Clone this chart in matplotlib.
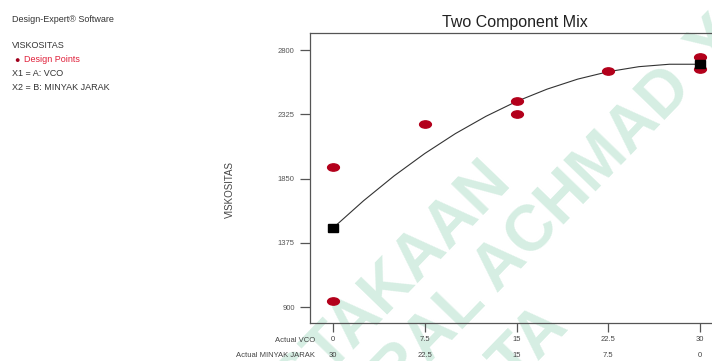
import matplotlib
matplotlib.use("Agg")
import matplotlib.pyplot as plt
from matplotlib.markers import MarkerStyle
from matplotlib.transforms import Affine2D

plt.rcParams['font.family'] = ['Liberation Sans', 'DejaVu Sans']

# design points (VCO amount vs viscosity)
vco = [0, 0, 7.5, 15, 15, 22.5, 30, 30]
viskositas = [1934, 944, 2252, 2422, 2326, 2643, 2747, 2658]

# fitted model line
curve_vco = [0, 2.5, 5, 7.5, 10, 12.5, 15, 17.5, 20, 22.5, 25, 27.5, 30]
curve_visk = [1484, 1686, 1870, 2035, 2182, 2310, 2420, 2511, 2585, 2640, 2677, 2695, 2695]

# end points of the model (black squares)
end_vco = [0, 30]
end_visk = [1484, 2695]

y_ticks = [900, 1375, 1850, 2325, 2800]
vco_ticks = [0, 7.5, 15, 22.5, 30]
vco_labels = ["0", "7.5", "15", "22.5", "30"]
jarak_labels = ["30", "22.5", "15", "7.5", "0"]

W, H = 712, 361


def fx(px):
    return px / W


def fy(py):
    return 1 - py / H


fig = plt.figure(figsize=(7.12, 3.61), dpi=100)
fig.patch.set_facecolor("white")

# watermark behind everything
wm = "#d6eee3"
wm_kw = dict(color=wm, fontsize=46, fontweight="bold", rotation=46,
             rotation_mode="anchor", zorder=-1)
fig.text(fx(500), fy(170), "PERPUSTAKAAN", ha="right", va="center", **wm_kw)
fig.text(fx(682), fy(78), "UNIVERSITAS JENDERAL ACHMAD", ha="right", va="center", **wm_kw)
fig.text(fx(700), fy(58), "YANI", ha="left", va="center", **wm_kw)
fig.text(fx(558), fy(316), "YOGYAKARTA", ha="right", va="center", **wm_kw)

ax = fig.add_axes([fx(310), fy(323), fx(402), 290 / H])
ax.patch.set_visible(False)

ellipse = MarkerStyle("o", transform=Affine2D().scale(1.0, 0.62))
flat_sq = MarkerStyle("s", transform=Affine2D().scale(1.0, 0.8))

ax.plot(curve_vco, curve_visk, color="#333333", lw=0.8, zorder=2)
ax.plot(vco, viskositas, linestyle="none", marker=ellipse, markersize=8.5,
        color="#b3001b", zorder=3)
ax.plot(end_vco, end_visk, linestyle="none", marker=flat_sq, markersize=6.8,
        color="black", zorder=4)

ax.set_xlim(-1.88, 30.98)
ax.set_ylim(782, 2926)

ax.spines["right"].set_visible(False)
for s in ["left", "bottom", "top"]:
    ax.spines[s].set_color("#555555")
    ax.spines[s].set_linewidth(0.9)

ax.set_yticks(y_ticks)
ax.set_yticklabels([str(v) for v in y_ticks], fontsize=5.5, color="#444444")
ax.tick_params(axis="y", direction="out", length=7, width=0.9, pad=4, colors="#555555")
ax.set_xticks(vco_ticks)
ax.set_xticklabels([])
ax.tick_params(axis="x", direction="out", length=6.5, width=0.9, colors="#555555")

for x, a, b in zip(vco_ticks, vco_labels, jarak_labels):
    ax.text(x, -0.058, a, transform=ax.get_xaxis_transform(), ha="center", va="center",
            fontsize=5.5, color="#444444")
    ax.text(x, -0.112, b, transform=ax.get_xaxis_transform(), ha="center", va="center",
            fontsize=5.5, color="#444444")

fig.text(fx(315), fy(340), "Actual VCO", ha="right", va="center", fontsize=5.5, color="#444444")
fig.text(fx(315), fy(355.5), "Actual MINYAK JARAK", ha="right", va="center", fontsize=5.5, color="#444444")

fig.text(fx(515), fy(23), "Two Component Mix", ha="center", va="center", fontsize=11.5, color="#222222")
fig.text(fx(230), fy(190), "VISKOSITAS", ha="center", va="center", rotation=90,
         fontsize=7, color="#444444")

# info block on the left
fig.text(fx(12), fy(20), "Design-Expert\u00ae Software", ha="left", va="center", fontsize=6.5, color="#333333")
fig.text(fx(12), fy(46), "VISKOSITAS", ha="left", va="center", fontsize=6.5, color="#333333")
fig.text(fx(14.5), fy(60), "\u25cf", ha="left", va="center", fontsize=6.5, color="#a0001c")
fig.text(fx(24), fy(60), "Design Points", ha="left", va="center", fontsize=6.5, color="#e0203a")
fig.text(fx(12), fy(73), "X1 = A: VCO", ha="left", va="center", fontsize=6.5, color="#333333")
fig.text(fx(12), fy(87), "X2 = B: MINYAK JARAK", ha="left", va="center", fontsize=6.5, color="#333333")

fig.savefig("out.png", dpi=100)
